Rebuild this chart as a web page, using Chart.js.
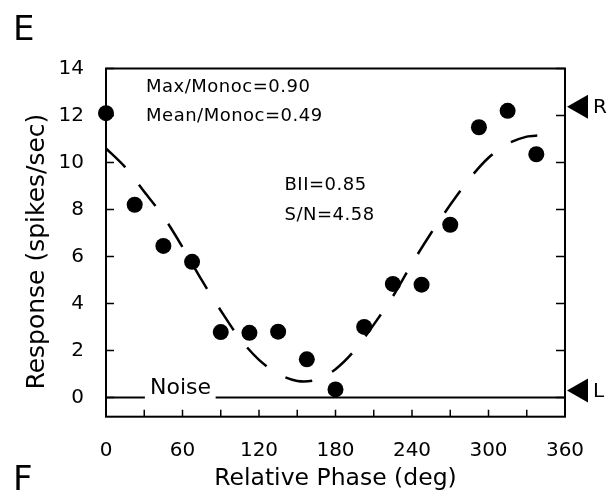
<!DOCTYPE html>
<html>
<head>
<meta charset="utf-8">
<script src="https://cdn.jsdelivr.net/npm/chart.js@4.4.1/dist/chart.umd.min.js"></script>
<style>
  html, body { margin: 0; padding: 0; background: #fff; }
  #wrap { width: 612px; height: 493px; }
</style>
</head>
<body>
<div id="wrap"><canvas id="chart" width="612" height="493"></canvas></div>
<script>
// response per relative phase (deg)
const phases = [0, 22.5, 45, 67.5, 90, 112.5, 135, 157.5, 180, 202.5, 225, 247.5, 270, 292.5, 315, 337.5];
const responses = [12.1, 8.2, 6.45, 5.77, 2.78, 2.75, 2.8, 1.62, 0.34, 3.0, 4.83, 4.8, 7.35, 11.5, 12.2, 10.35];

// dashed fit
const fitPhases = [0, 15, 30, 45, 60, 75, 90, 105, 120, 135, 150, 165, 180, 195, 210, 225, 240, 255, 270, 285, 300, 315, 330, 340];
const fitValues = [10.6, 9.8, 8.75, 7.7, 6.4, 5.0, 3.7, 2.5, 1.6, 1.0, 0.7, 0.75, 1.2, 2.0, 3.1, 4.3, 5.7, 7.0, 8.2, 9.3, 10.2, 10.8, 11.1, 11.15];

// noise level line, broken where the label sits
const noiseLevel = 0;
const noiseLeft = [0, 30.5];
const noiseRight = [86, 360];
const noiseLabelAt = [34.5, 0.13];

const xTicks = [0, 30, 60, 90, 120, 150, 180, 210, 240, 270, 300, 330, 360];
const xTickLabels = [0, 60, 120, 180, 240, 300, 360];
const yTicks = [0, 2, 4, 6, 8, 10, 12, 14];
const yTitle = 'Response (spikes/sec)';

const stats = ['Max/Monoc=0.90', 'Mean/Monoc=0.49', 'BII=0.85', 'S/N=4.58'];
const statX = [31.4, 31.4, 140, 140];
const statY = [13.19, 11.97, 9.02, 7.74];

const eyeMarks = ['R', 'L'];
const eyeLevels = [12.37, 0.3];

const FONT = 'DejaVu Sans';
Chart.defaults.font.family = FONT;
Chart.defaults.color = '#000';

const frame = {
  id: 'frame',
  afterDraw(chart) {
    const { ctx, chartArea: a, scales: { x, y } } = chart;
    ctx.save();
    ctx.strokeStyle = '#000';
    ctx.fillStyle = '#000';
    ctx.lineWidth = 2;
    ctx.strokeRect(a.left, a.top, a.right - a.left, a.bottom - a.top);

    ctx.lineWidth = 1.5;
    ctx.beginPath();
    x.ticks.forEach(t => {
      const px = x.getPixelForValue(t.value);
      ctx.moveTo(px, a.bottom);
      ctx.lineTo(px, a.bottom - 7);
    });
    y.ticks.forEach(t => {
      const py = y.getPixelForValue(t.value);
      ctx.moveTo(a.left, py);
      ctx.lineTo(a.left + 8, py);
      ctx.moveTo(a.right, py);
      ctx.lineTo(a.right - 9, py);
    });
    ctx.stroke();

    // y title, sits a little below the middle of the axis
    ctx.save();
    ctx.translate(37.5, (a.top + a.bottom) / 2 + 9);
    ctx.rotate(-Math.PI / 2);
    ctx.font = '25px "' + FONT + '"';
    ctx.textAlign = 'center';
    ctx.textBaseline = 'middle';
    ctx.fillText(yTitle, 0, 0);
    ctx.restore();

    // stats text
    ctx.font = '18px "' + FONT + '"';
    ctx.letterSpacing = '0.5px';
    ctx.textBaseline = 'middle';
    ctx.textAlign = 'left';
    stats.forEach((s, i) => {
      ctx.fillText(s, x.getPixelForValue(statX[i]), y.getPixelForValue(statY[i]));
    });

    // noise label
    ctx.letterSpacing = '0px';
    ctx.font = '22px "' + FONT + '"';
    ctx.textBaseline = 'alphabetic';
    ctx.fillText('Noise', x.getPixelForValue(noiseLabelAt[0]), y.getPixelForValue(noiseLabelAt[1]));

    // eye markers on the right
    ctx.font = '20px "' + FONT + '"';
    ctx.textBaseline = 'middle';
    eyeMarks.forEach((m, i) => {
      const py = y.getPixelForValue(eyeLevels[i]);
      ctx.beginPath();
      ctx.moveTo(a.right + 2, py);
      ctx.lineTo(a.right + 23, py - 12);
      ctx.lineTo(a.right + 23, py + 12);
      ctx.closePath();
      ctx.fill();
      ctx.fillText(m, a.right + 28, py + 1);
    });

    // panel letters
    ctx.font = '34px "' + FONT + '"';
    ctx.textBaseline = 'alphabetic';
    ctx.fillText('E', 13, 40);
    ctx.fillText('F', 13, 490);
    ctx.restore();
  }
};

new Chart(document.getElementById('chart'), {
  type: 'scatter',
  data: {
    datasets: [
      {
        data: phases.map((p, i) => ({ x: p, y: responses[i] })),
        backgroundColor: '#000',
        borderWidth: 0,
        pointRadius: 8,
        pointHoverRadius: 8,
        clip: false
      },
      {
        data: fitPhases.map((p, i) => ({ x: p, y: fitValues[i] })),
        showLine: true,
        borderColor: '#000',
        borderWidth: 2.5,
        borderDash: [27, 22],
        tension: 0.3,
        pointRadius: 0
      },
      {
        data: noiseLeft.map(p => ({ x: p, y: noiseLevel })),
        showLine: true,
        borderColor: '#000',
        borderWidth: 2,
        pointRadius: 0
      },
      {
        data: noiseRight.map(p => ({ x: p, y: noiseLevel })),
        showLine: true,
        borderColor: '#000',
        borderWidth: 2,
        pointRadius: 0
      }
    ]
  },
  options: {
    responsive: false,
    animation: false,
    events: [],
    layout: { padding: { top: 68.5, right: 47, left: 0, bottom: 0 } },
    plugins: { legend: { display: false }, tooltip: { enabled: false } },
    scales: {
      x: {
        type: 'linear',
        min: 0,
        max: 360,
        afterBuildTicks: s => { s.ticks = xTicks.map(v => ({ value: v })); },
        afterFit: s => { s.height = 76.3; },
        grid: { display: false, drawTicks: false },
        border: { display: false },
        ticks: {
          autoSkip: false,
          maxRotation: 0,
          padding: 22,
          font: { size: 20 },
          callback: v => xTickLabels.includes(v) ? String(v) : ''
        },
        title: {
          display: true,
          text: 'Relative Phase (deg)',
          font: { size: 23.5 },
          padding: { top: 0, bottom: 0 }
        }
      },
      y: {
        min: -0.82,
        max: 14,
        afterBuildTicks: s => { s.ticks = yTicks.map(v => ({ value: v })); },
        afterFit: s => { s.width = 106; },
        grid: { display: false, drawTicks: false },
        border: { display: false },
        ticks: {
          padding: 22,
          font: { size: 20 },
          callback: v => String(v)
        },
        title: { display: false }
      }
    }
  },
  plugins: [frame]
});
</script>
</body>
</html>
